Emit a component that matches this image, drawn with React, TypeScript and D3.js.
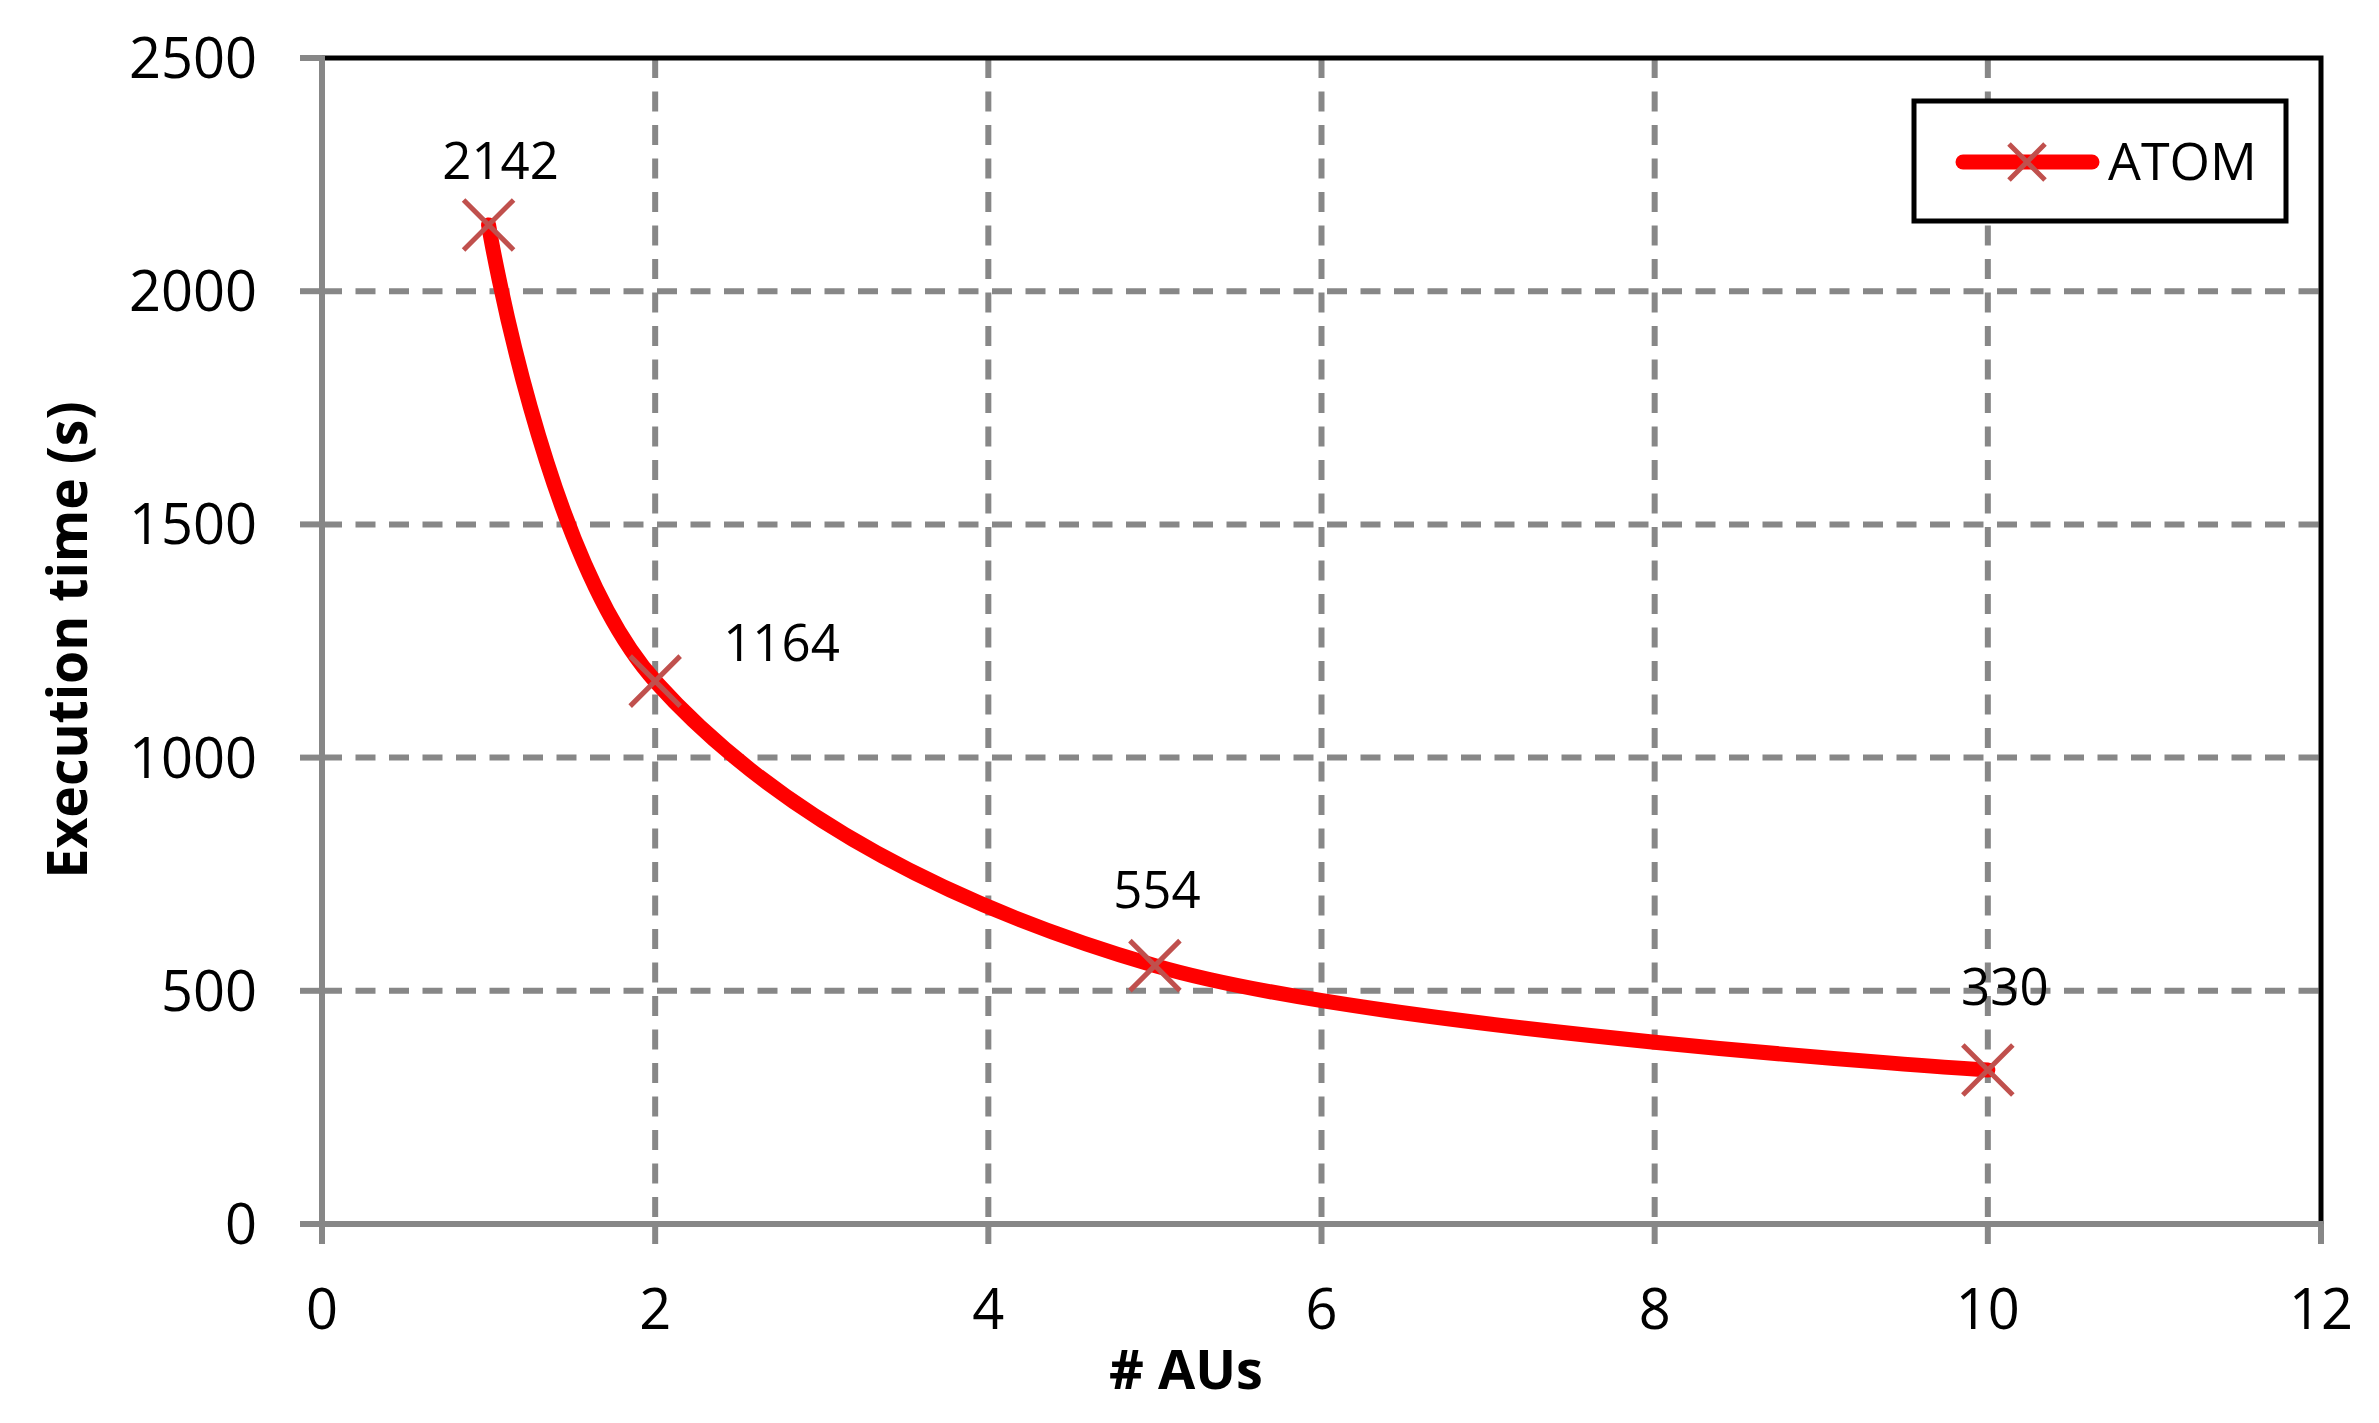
import React from "react";
import * as d3 from "d3";

const seriesName = "ATOM";
const auCounts = [1, 2, 5, 10];
const execTimes = [2142, 1164, 554, 330];
const xTickValues = [0, 2, 4, 6, 8, 10, 12];
const yTickValues = [0, 500, 1000, 1500, 2000, 2500];
const xTitle = "# AUs";
const yTitle = "Execution time (s)";

// label placement relative to each point (layout, not data)
const labelPlacement = [
  { dx: 12, dy: -46, anchor: "middle" },
  { dx: 68, dy: -20, anchor: "start" },
  { dx: 2, dy: -58, anchor: "middle" },
  { dx: 17, dy: -65, anchor: "middle" },
];

const W = 2379;
const H = 1423;
const M = { left: 322, right: 2321, top: 58, bottom: 1224 };
const FONT = "'Open Sans', 'DejaVu Sans', sans-serif";
const GRID = "#878787";

export default function App() {
  const x = d3.scaleLinear().domain([0, 12]).range([M.left, M.right]);
  const y = d3.scaleLinear().domain([0, 2500]).range([M.bottom, M.top]);

  const pts: [number, number][] = auCounts.map((a, i) => [x(a), y(execTimes[i])]);
  const line = d3.line().curve(d3.curveCardinal.tension(0))(pts) || "";

  const cross = (cx: number, cy: number, r: number, key: string) => (
    <path
      key={key}
      d={`M${cx - r},${cy - r}L${cx + r},${cy + r}M${cx - r},${cy + r}L${cx + r},${cy - r}`}
      stroke="#C0504D"
      strokeWidth={5}
      fill="none"
    />
  );

  return (
    <svg
      width={W}
      height={H}
      style={{ position: "absolute", left: 0, top: 0, background: "#fff" }}
      fontFamily={FONT}
    >
      <rect x={0} y={0} width={W} height={H} fill="#fff" />
      {/* horizontal gridlines */}
      {yTickValues.filter((v) => v > 0 && v < 2500).map((v) => (
        <line
          key={"hg" + v}
          x1={M.left}
          x2={M.right}
          y1={y(v)}
          y2={y(v)}
          stroke={GRID}
          strokeWidth={6}
          strokeDasharray="20,13.5"
        />
      ))}
      {/* vertical gridlines */}
      {xTickValues.filter((v) => v > 0 && v < 12).map((v) => (
        <line
          key={"vg" + v}
          x1={x(v)}
          x2={x(v)}
          y1={M.top}
          y2={M.bottom}
          stroke={GRID}
          strokeWidth={6}
          strokeDasharray="20,13.5"
        />
      ))}
      {/* top and right border */}
      <path
        d={`M${M.left},${M.top}H${M.right}V${M.bottom}`}
        stroke="#000"
        strokeWidth={5}
        fill="none"
      />
      {/* axes */}
      <line x1={M.left} x2={M.left} y1={M.top - 2} y2={M.bottom + 20} stroke={GRID} strokeWidth={6} />
      <line x1={M.left - 22} x2={M.right + 2} y1={M.bottom} y2={M.bottom} stroke={GRID} strokeWidth={6} />
      {yTickValues.map((v) => (
        <line key={"yt" + v} x1={M.left - 22} x2={M.left} y1={y(v)} y2={y(v)} stroke={GRID} strokeWidth={6} />
      ))}
      {xTickValues.map((v) => (
        <line key={"xt" + v} x1={x(v)} x2={x(v)} y1={M.bottom} y2={M.bottom + 20} stroke={GRID} strokeWidth={6} />
      ))}
      {/* tick labels */}
      {yTickValues.map((v) => (
        <text key={"yl" + v} x={257} y={y(v) + 20} textAnchor="end" fontSize={56} fill="#000">
          {v}
        </text>
      ))}
      {xTickValues.map((v) => (
        <text key={"xl" + v} x={x(v)} y={1329} textAnchor="middle" fontSize={56} fill="#000">
          {v}
        </text>
      ))}
      {/* axis titles */}
      <text x={1186} y={1389} textAnchor="middle" fontSize={54} fontWeight="bold" fill="#000">
        {xTitle}
      </text>
      <text
        transform="translate(87,640) rotate(-90)"
        textAnchor="middle"
        fontSize={55}
        fontWeight="bold"
        fill="#000"
        textLength={477}
        lengthAdjust="spacingAndGlyphs"
      >
        {yTitle}
      </text>
      {/* series */}
      <path d={line} stroke="#FF0000" strokeWidth={15} fill="none" strokeLinecap="round" strokeLinejoin="round" />
      {pts.map(([px, py], i) => cross(px, py, 25, "m" + i))}
      {pts.map(([px, py], i) => (
        <text
          key={"dl" + i}
          x={px + labelPlacement[i].dx}
          y={py + labelPlacement[i].dy}
          textAnchor={labelPlacement[i].anchor as any}
          fontSize={51}
          fill="#000"
        >
          {execTimes[i]}
        </text>
      ))}
      {/* legend */}
      <rect x={1914} y={101} width={372} height={120} fill="#fff" stroke="#000" strokeWidth={5} />
      <line x1={1963} x2={2092} y1={162} y2={162} stroke="#FF0000" strokeWidth={15} strokeLinecap="round" />
      {cross(2027, 162, 18, "legm")}
      <text x={2108} y={180} fontSize={52} fill="#000">
        {seriesName}
      </text>
    </svg>
  );
}
